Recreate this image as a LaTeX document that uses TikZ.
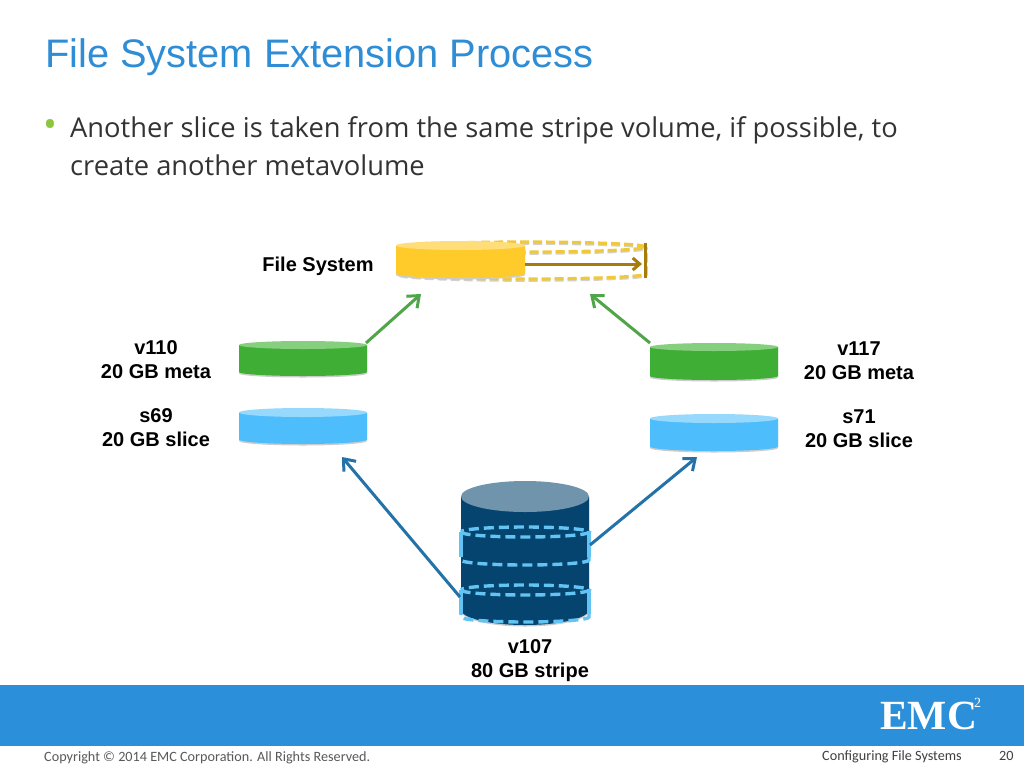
\documentclass[tikz,border=0pt]{standalone}
\usepackage{fontspec}
\setmainfont{Liberation Sans}
\newfontfamily\bodyfont{Open Sans}
\newfontfamily\footfont{Carlito}
\newfontfamily\logofont{Liberation Serif}
\usepackage{xcolor}
\usetikzlibrary{math,positioning,arrows.meta}
\definecolor{emcblue}{HTML}{2B90D9}
\definecolor{titleblue}{HTML}{2F8DD6}
\definecolor{bulletgreen}{HTML}{8CC63F}
\definecolor{bodygray}{HTML}{333333}
\definecolor{footgray}{HTML}{595959}
\definecolor{diskyellow}{HTML}{FFCB2B}
\definecolor{diskyellowtop}{HTML}{FFDD78}
\definecolor{diskgreen}{HTML}{3FAE35}
\definecolor{diskgreentop}{HTML}{86CF7E}
\definecolor{diskblue}{HTML}{4DBDFC}
\definecolor{diskbluetop}{HTML}{96D9FD}
\definecolor{stripedark}{HTML}{04446E}
\definecolor{stripetop}{HTML}{6F94AB}
\definecolor{stripedash}{HTML}{63C3F2}
\definecolor{dashyellow}{HTML}{F0C83C}
\definecolor{growbrown}{HTML}{A67C0A}
\definecolor{arrowgreen}{HTML}{4FA548}
\definecolor{arrowblue}{HTML}{2472A8}
\tikzset{
	label/.style={font=\fontsize{20}{24}\selectfont\bfseries,align=center,text=black},
	linkgreen/.style={draw=arrowgreen,line width=3pt,-{Straight Barb[length=10pt,width=16pt]}},
	linkblue/.style={draw=arrowblue,line width=3pt,-{Straight Barb[length=10pt,width=16pt]}},
	slicedash/.style={draw=stripedash,line width=3.4pt,dash pattern=on 10pt off 5pt},
	growdash/.style={draw=dashyellow,line width=3.2pt,dash pattern=on 9pt off 4pt},
	growshade/.style={draw=black!18,line width=3.2pt,dash pattern=on 9pt off 4pt},
}
% left, right, top of lid, bottom of lid, bottom, body colour, lid colour
\newcommand{\disk}[7]{
	\tikzmath{
		\cx = (#1+#2)/2;\rx = (#2-#1)/2;\ry = (#4-#3)/2;\my = (#3+#4)/2;\by = #5-\ry;
	}
	\fill[black!20] (#1,\my+1.5) -- (#1,\by+1.5) arc[start angle=180,end angle=360,x radius=\rx,y radius=-\ry] -- (#2,\my+1.5) -- cycle;
	\fill[#6] (#1,\my) -- (#1,\by) arc[start angle=180,end angle=360,x radius=\rx,y radius=-\ry] -- (#2,\my) -- cycle;
	\fill[#7] (\cx,\my) ellipse[x radius=\rx,y radius=\ry];
}
\begin{document}
\begin{tikzpicture}[x=1pt,y=-1pt]
\useasboundingbox (0,0) rectangle (1024,768);
\fill[white] (0,0) rectangle (1024,768);
% slide frame
\node[anchor=base west,inner sep=0pt,text=titleblue,font=\fontsize{39.8}{44}\selectfont] (title) at (45,67) {File System Extension Process};
\node[anchor=base west,inner sep=0pt,text=bulletgreen,font=\fontsize{37}{37}\bodyfont] (bullet) at (43,137) {•};
\node[anchor=base west,inner sep=0pt,text=bodygray,font=\fontsize{27.3}{38}\bodyfont] (line1) at (70,137) {Another slice is taken from the same stripe volume, if possible, to};
\node[anchor=base west,inner sep=0pt,text=bodygray,font=\fontsize{27.3}{38}\bodyfont] (line2) at (70,175) {create another metavolume};
\fill[emcblue] (0,685) rectangle (1024,746);
\node[anchor=base west,inner sep=0pt,text=white,font=\fontsize{41.5}{42}\logofont\bfseries] (logo) at (880,729) {EMC};
\node[anchor=base west,inner sep=0pt,text=white,font=\fontsize{14}{14}\logofont] (logosup) at (974,707) {2};
\node[anchor=base west,inner sep=0pt,text=footgray,font=\fontsize{14.2}{16}\footfont] (copy) at (44,761) {Copyright © 2014 EMC Corporation. All Rights Reserved.};
\node[anchor=base west,inner sep=0pt,text=black!75,font=\fontsize{14.2}{16}\footfont] (topic) at (822,760) {Configuring File Systems};
\node[anchor=base west,inner sep=0pt,text=black!75,font=\fontsize{14.2}{16}\footfont] (page) at (999,760) {20};
% stripe volume
\disk{461}{589}{481}{512}{625}{stripedark}{stripetop}
\foreach \t/\l/\b in {527/537/565,585/595/622}{
	\draw[slicedash] (461,{(\t+\l)/2}) arc[start angle=180,end angle=-180,x radius=64,y radius=5];
	\draw[slicedash] (461,{(\t+\l)/2}) -- (461,\b-5) arc[start angle=180,end angle=360,x radius=64,y radius=-5] -- (589,{(\t+\l)/2});
	\draw[draw=stripedash,line width=3.4pt] (461,{(\t+\l)/2}) -- (461,\b-8);
	\draw[draw=stripedash,line width=3.4pt] (589,{(\t+\l)/2}) -- (589,\b-8);
}
% slices and metas
\disk{239}{367}{408}{417}{444}{diskblue}{diskbluetop}
\disk{650}{778}{414}{423}{451}{diskblue}{diskbluetop}
\disk{239}{367}{341}{349}{376}{diskgreen}{diskgreentop}
\disk{650}{778}{343}{351}{380}{diskgreen}{diskgreentop}
% file system
\draw[growshade,yshift=-1.2pt] (400,247) arc[start angle=180,end angle=-180,x radius=123,y radius=5];
\draw[growshade,yshift=-1.2pt] (400,247) -- (400,274) arc[start angle=180,end angle=360,x radius=123,y radius=-5] -- (646,247);
\draw[growdash] (400,247) arc[start angle=180,end angle=-180,x radius=123,y radius=5];
\draw[growdash] (400,247) -- (400,274) arc[start angle=180,end angle=360,x radius=123,y radius=-5] -- (646,247);
\disk{396}{525}{241}{250}{278}{diskyellow}{diskyellowtop}
\draw[draw=growbrown,line width=3pt] (645,243) -- (645,278);
\coordinate (growa) at (525,264);
\coordinate (growb) at (642,264);
\draw[draw=growbrown,line width=3pt,-{Straight Barb[length=7pt,width=12pt]}] (growa) -- (growb);
% labels
\node[label] (fs) at (318,266) {File System};
\node[label] (v110) at (156,360) {v110\\20 GB meta};
\node[label] (s69) at (156,428) {s69\\20 GB slice};
\node[label] (v117) at (859,361) {v117\\20 GB meta};
\node[label] (s71) at (859,429) {s71\\20 GB slice};
\node[label] (v107) at (530,661) {v107\\80 GB stripe};
% connectors
\coordinate (metal) at (366,343);
\coordinate (metar) at (650,343);
\coordinate (fsl) at (421,294);
\coordinate (fsr) at (590,294);
\coordinate (slicel) at (342,457);
\coordinate (slicer) at (697,457);
\coordinate (stripel) at (460,597);
\coordinate (striper) at (590,545);
\draw[linkgreen] (metal) -- (fsl);
\draw[linkgreen] (metar) -- (fsr);
\draw[linkblue] (stripel) -- (slicel);
\draw[linkblue] (striper) -- (slicer);
\end{tikzpicture}
\end{document}
